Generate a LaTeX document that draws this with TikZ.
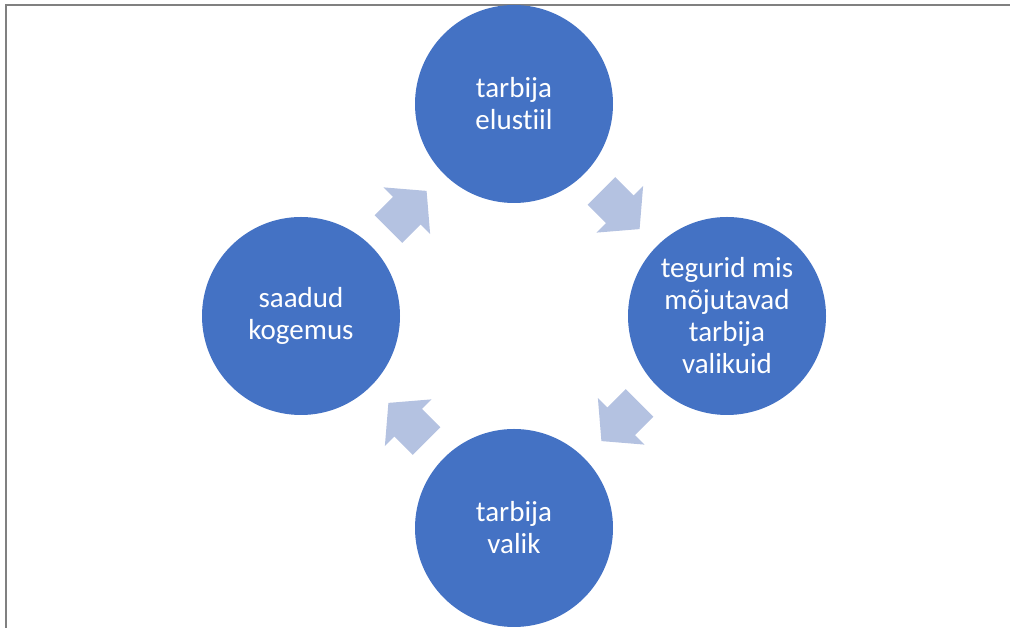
\documentclass[tikz,border=0pt]{standalone}
\usepackage{fontspec}
\setmainfont[Ligatures={NoCommon}]{Carlito}
\usetikzlibrary{calc}
\definecolor{circblue}{RGB}{68,114,196}
\definecolor{arrowblue}{RGB}{180,194,225}
\definecolor{framegray}{RGB}{128,128,128}
\tikzset{
  cyclenode/.style={circle, fill=circblue, draw=none, minimum size=198pt, inner sep=0pt,
    text=white, align=center, font=\fontsize{29}{32}\selectfont},
  blockarrow/.style={fill=arrowblue, draw=none}
}
\newcommand{\cyclearrow}{(-27,19.5) -- (-1,19.5) -- (-1,33) -- (27,0) -- (-1,-33) -- (-1,-19.5) -- (-27,-19.5) -- cycle}
\begin{document}
\begin{tikzpicture}[x=1pt,y=1pt]
\useasboundingbox (0,0) rectangle (1010,628);
% frame
\draw[framegray, line width=1.2pt] (5,623) -- (1010,623);
\draw[framegray, line width=2pt] (6,0) -- (6,623.6);
% circles
\node[cyclenode] (top) at (514,524) {tarbija\\elustiil};
\node[cyclenode] (right) at (727,312) {tegurid mis\\mõjutavad\\tarbija\\valikuid};
\node[cyclenode] (bottom) at (514,100) {tarbija\\valik};
\node[cyclenode] (left) at (301,312) {saadud\\kogemus};
% block arrows
\begin{scope}[shift={($(top)!0.5!(right)$)}, rotate=-45]
  \fill[blockarrow] \cyclearrow;
\end{scope}
\begin{scope}[shift={($(right)!0.5!(bottom)$)}, rotate=-135]
  \fill[blockarrow] \cyclearrow;
\end{scope}
\begin{scope}[shift={($(bottom)!0.5!(left)$)}, rotate=135]
  \fill[blockarrow] \cyclearrow;
\end{scope}
\begin{scope}[shift={($(left)!0.5!(top)$)}, rotate=45]
  \fill[blockarrow] \cyclearrow;
\end{scope}
\end{tikzpicture}
\end{document}
